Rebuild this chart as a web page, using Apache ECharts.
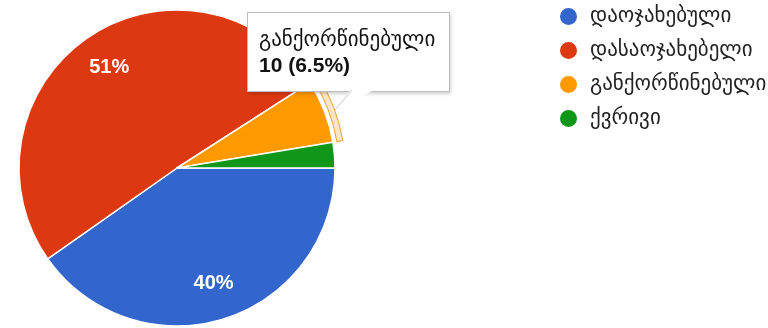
<!DOCTYPE html>
<html>
<head>
<meta charset="utf-8">
<script src="https://cdn.jsdelivr.net/npm/echarts@6/dist/echarts.min.js"></script>
<style>
  html, body { margin: 0; padding: 0; background: #fff; }
  #chart { width: 768px; height: 328px; }
</style>
</head>
<body>
<div id="chart"></div>
<script>
// Marital status of respondents
const categories = ['დაოჯახებული', 'დასაოჯახებელი', 'განქორწინებული', 'ქვრივი'];
const counts = [62, 78, 10, 4];
const colors = ['#3366cc', '#dc3912', '#ff9900', '#109618'];
const focusedIndex = 2; // slice with the open tooltip

const geoFont = '"DejaVu Sans", sans-serif';
const numFont = '"Liberation Sans", Arial, sans-serif';

const pieData = categories.map((name, i) => ({ name, value: counts[i] }));
const center = [177, 168];
const R = 158;

const chart = echarts.init(document.getElementById('chart'), null, { renderer: 'canvas' });

chart.setOption({
  animation: false,
  color: colors,
  legend: {
    orient: 'vertical',
    left: 558,
    top: 6,
    padding: 0,
    itemWidth: 19,
    itemHeight: 19,
    itemGap: 13,
    icon: 'circle',
    data: categories,
    selectedMode: false,
    textStyle: { fontFamily: geoFont, fontSize: 21, color: '#222', padding: [0, 0, 0, 7] }
  },
  tooltip: {
    trigger: 'item',
    triggerOn: 'none',
    alwaysShowContent: true,
    transitionDuration: 0,
    position: [247, 12],
    backgroundColor: '#fff',
    borderColor: '#bdbdbd',
    borderWidth: 1,
    padding: [14, 14, 14, 11],
    extraCssText: 'border-radius:0;box-shadow:1px 2px 3px rgba(0,0,0,0.18);overflow:visible;',
    formatter: p => {
      const pct = p.percent.toFixed(1);
      return '<div style="font-family:' + geoFont.replace(/"/g, "'") +
        ';font-size:21px;line-height:25px;color:#111;white-space:nowrap;">' + p.name + '</div>' +
        '<div style="font-family:' + numFont.replace(/"/g, "'") +
        ';font-size:21px;line-height:25px;font-weight:bold;color:#111;">' +
        p.value + ' (' + pct + '%)</div>' +
        '<svg width="60" height="30" style="position:absolute;left:85px;top:77px;overflow:visible">' +
        '<polygon points="2,20 19,-2 45,-2" fill="#fff"/>' +
        '<polyline points="2,20 19,0" fill="none" stroke="#c8c8c8" stroke-width="1"/>' +
        '</svg>';
    }
  },
  series: [
    {
      type: 'pie',
      center: center,
      radius: R,
      startAngle: 0,
      clockwise: true,
      data: pieData,
      label: { show: false },
      labelLine: { show: false },
      emphasis: { disabled: true },
      itemStyle: { borderColor: '#fff', borderWidth: 1.5 }
    },
    {
      // hover ring around the focused slice
      type: 'pie',
      center: center,
      radius: [R + 4, R + 10],
      startAngle: 0,
      clockwise: true,
      silent: true,
      tooltip: { show: false },
      data: pieData.map((d, i) => ({
        name: d.name,
        value: d.value,
        itemStyle: i === focusedIndex
          ? { color: 'rgba(255,200,120,0.45)', borderColor: 'rgba(220,130,0,0.75)', borderWidth: 1 }
          : { color: 'rgba(0,0,0,0)', borderWidth: 0 }
      })),
      label: { show: false },
      labelLine: { show: false },
      emphasis: { disabled: true }
    },
    {
      // percentage labels placed at three quarters of the radius
      type: 'pie',
      center: center,
      radius: [R * 0.5, R],
      startAngle: 0,
      clockwise: true,
      silent: true,
      tooltip: { show: false },
      data: pieData.map(d => ({ name: d.name, value: d.value, itemStyle: { color: 'rgba(0,0,0,0)' } })),
      itemStyle: { borderWidth: 0 },
      label: {
        show: true,
        position: 'inside',
        formatter: p => (p.percent < 10 ? '' : Math.round(p.percent) + '%'),
        color: '#fff',
        fontFamily: numFont,
        fontSize: 20,
        fontWeight: 'bold'
      },
      labelLine: { show: false },
      emphasis: { disabled: true }
    }
  ]
});

chart.dispatchAction({ type: 'showTip', seriesIndex: 0, dataIndex: focusedIndex });
</script>
</body>
</html>
